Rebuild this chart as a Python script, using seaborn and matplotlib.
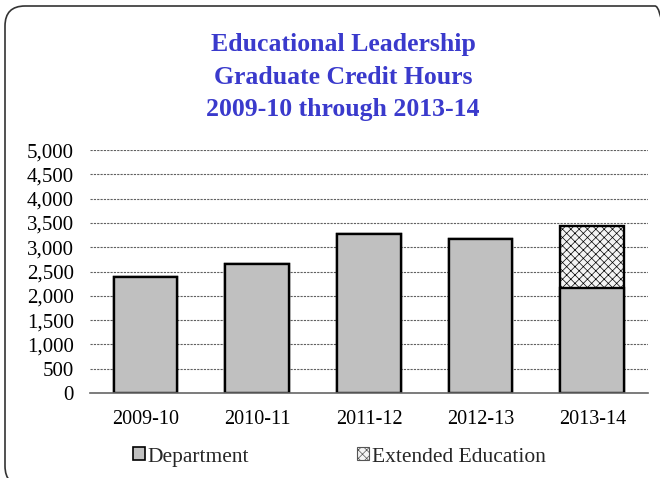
import matplotlib
matplotlib.use("Agg")
import matplotlib.pyplot as plt
import seaborn as sns
from matplotlib.patches import FancyBboxPatch, Patch
from matplotlib.ticker import FuncFormatter

# --- Data ---
years = ["2009-10", "2010-11", "2011-12", "2012-13", "2013-14"]
department = [2395, 2655, 3275, 3165, 2170]
extended = [0, 0, 0, 0, 1275]
totals = [d + e for d, e in zip(department, extended)]

title_lines = ["Educational Leadership", "Graduate Credit Hours", "2009-10 through 2013-14"]

# --- Style ---
sns.set_theme(style="white")
plt.rcParams["font.family"] = ["Liberation Serif", "DejaVu Serif"]
plt.rcParams["hatch.linewidth"] = 0.5
plt.rcParams["hatch.color"] = "#a8a8a8"

HATCH = "xxxx"

fig = plt.figure(figsize=(6.6, 4.78), dpi=100)
ax = fig.add_axes([0.136, 0.178, 0.846, 0.508])

# stacked: draw totals (hatched) then department over it
sns.barplot(x=years, y=totals, color="#f4f4f4", edgecolor="black",
            linewidth=1.7, width=0.57, hatch=HATCH, ax=ax, saturation=1)
sns.barplot(x=years, y=department, color="#c0c0c0", edgecolor="black",
            linewidth=1.7, width=0.57, ax=ax, saturation=1)

ax.set_ylim(0, 5000)
ax.set_xlim(-0.5, 4.5)
ax.set_yticks(range(0, 5001, 500))
ax.yaxis.set_major_formatter(FuncFormatter(lambda v, p: f"{int(v):,}"))
ax.grid(axis="y", color="#606060", linewidth=0.8, linestyle=(0, (2, 1)))
ax.set_axisbelow(True)
for s in ["top", "right", "left"]:
    ax.spines[s].set_visible(False)
ax.spines["bottom"].set_color("#666666")
ax.spines["bottom"].set_linewidth(1.2)
ax.tick_params(axis="both", colors="black", length=0)
ax.tick_params(axis="x", labelsize=14.5, pad=12)
ax.tick_params(axis="y", labelsize=15, pad=11.5)

# title
fig.text(0.52, 0.931, "\n".join(title_lines), ha="center", va="top",
         fontsize=18.5, fontweight="bold", color="#3a3acc", linespacing=1.53)

# legend
handles = [Patch(facecolor="#c0c0c0", edgecolor="black", linewidth=1.2),
           Patch(facecolor="#f4f4f4", edgecolor="#555555", linewidth=0.8, hatch=HATCH)]
fig.legend(handles, ["Department", "Extended Education"], loc="center",
           bbox_to_anchor=(0.514, 0.044), ncol=2, frameon=False, fontsize=15.5,
           handlelength=0.55, handleheight=0.55, handletextpad=0.15, columnspacing=5.0)

# rounded frame (inches), clipped by the figure edge
frame = FancyBboxPatch((0.05, -0.08), 6.70, 4.80, boxstyle="round,pad=0,rounding_size=0.2",
                       transform=fig.dpi_scale_trans, facecolor="none",
                       edgecolor="#333333", linewidth=1.2)
fig.patches.append(frame)

fig.savefig("out.png", dpi=100)
